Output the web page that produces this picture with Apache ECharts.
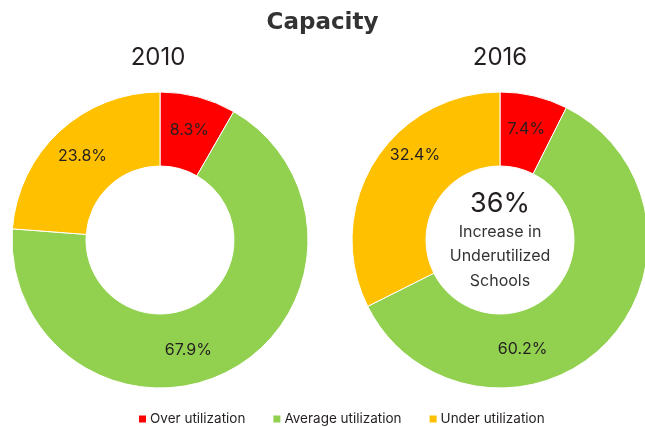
<!DOCTYPE html>
<html>
<head>
<meta charset="utf-8">
<script src="https://cdn.jsdelivr.net/npm/echarts@6/dist/echarts.min.js"></script>
<style>
  html, body { margin: 0; padding: 0; background: #fff; }
  #chart { width: 645px; height: 427px; }
</style>
</head>
<body>
<div id="chart"></div>
<script>
const categories = ['Over utilization', 'Average utilization', 'Under utilization']
const values2010 = [8.3, 67.9, 23.8]
const values2016 = [7.4, 60.2, 32.4]
const years = ['2010', '2016']
const centerValue = '36%'
const centerLines = ['Increase in', 'Underutilized', 'Schools']
const colors = ['#FF0000', '#92D050', '#FFC000']

const font = 'Inter, "Liberation Sans", sans-serif'
const ink = '#231F20'

// green labels sit lower than the slice middle in the original
const labelShift = {
  '2010': [[0, 0], [-25, 9], [0, 0]],
  '2016': [[0, 0], [-58, 29], [12, -25]]
}

function donut(name, values, cx) {
  return {
    name,
    type: 'pie',
    center: [cx, 240],
    radius: [74, 148],
    startAngle: 90,
    clockwise: true,
    avoidLabelOverlap: false,
    silent: true,
    itemStyle: { borderColor: '#fff', borderWidth: 1 },
    label: {
      show: true,
      position: 'inside',
      formatter: ({ value }) => value.toFixed(1) + '%',
      color: ink,
      fontFamily: font,
      fontSize: 16
    },
    labelLine: { show: false },
    data: values.map((v, i) => ({
      name: categories[i],
      value: v,
      itemStyle: { color: colors[i] },
      label: { offset: labelShift[name][i] }
    }))
  }
}

const myChart = echarts.init(document.getElementById('chart'))
myChart.setOption({
  animation: false,
  title: {
    text: 'Capacity',
    left: 'center',
    top: 7,
    textStyle: {
      fontFamily: '"DejaVu Sans", sans-serif',
      fontWeight: 'bold',
      fontSize: 23,
      color: '#333'
    }
  },
  legend: {
    data: categories,
    left: 137,
    top: 412,
    padding: 0,
    icon: 'rect',
    itemWidth: 9,
    itemHeight: 9,
    itemGap: 26,
    selectedMode: false,
    textStyle: { fontFamily: font, fontSize: 13.5, color: ink, padding: [0, 0, 0, -2] }
  },
  graphic: [
    { type: 'text', x: 158, y: 46, style: { text: years[0], font: '24px ' + font, fill: ink, textAlign: 'center' } },
    { type: 'text', x: 500, y: 46, style: { text: years[1], font: '24px ' + font, fill: ink, textAlign: 'center' } },
    { type: 'text', x: 500, y: 204, style: { text: centerValue, font: '27px ' + font, fill: ink, textAlign: 'center', textVerticalAlign: 'middle' } },
    ...centerLines.map((t, i) => ({
      type: 'text', x: 500, y: 232 + i * 24.5,
      style: { text: t, font: '16px ' + font, fill: '#333', textAlign: 'center', textVerticalAlign: 'middle' }
    }))
  ],
  series: [
    donut('2010', values2010, 160),
    donut('2016', values2016, 500)
  ]
})
</script>
</body>
</html>
